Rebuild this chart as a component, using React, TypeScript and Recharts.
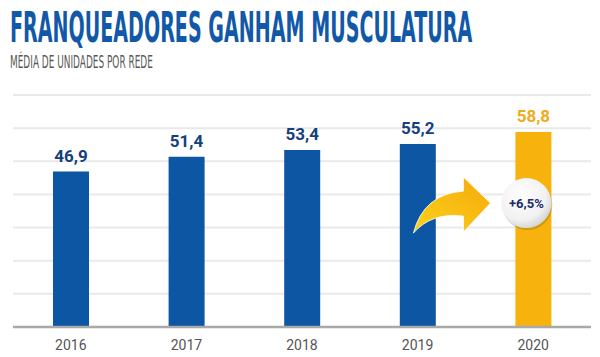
import { useLayoutEffect, useRef, useState } from "react";
import { BarChart, Bar, XAxis, YAxis, CartesianGrid, Cell, LabelList } from "recharts";

const years = ["2016", "2017", "2018", "2019", "2020"];
const unitsPerNetwork = [46.9, 51.4, 53.4, 55.2, 58.8];
const yTicks = [0, 10, 20, 30, 40, 50, 60, 70];
const growthLabel = "+6,5%";

const BLUE = "#0c56a3";
const YELLOW = "#f8b20e";
const NAVY = "#153f7d";

const data = years.map((year, i) => ({ year, value: unitsPerNetwork[i] }));

function fmt(v: number) {
  return v.toFixed(1).replace(".", ",");
}

// squeezes a line of text horizontally to a given width (condensed headline look)
function FitText({ text, left, top, width, style }: { text: string; left: number; top: number; width: number; style: React.CSSProperties }) {
  const ref = useRef<HTMLSpanElement>(null);
  const [scale, setScale] = useState(1);
  useLayoutEffect(() => {
    if (ref.current) setScale(width / ref.current.offsetWidth);
  }, [text, width]);
  return (
    <span
      ref={ref}
      style={{
        position: "absolute",
        left,
        top,
        whiteSpace: "nowrap",
        lineHeight: 1,
        transform: `scaleX(${scale})`,
        transformOrigin: "left top",
        fontFamily: "DejaVu Sans Condensed",
        ...style,
      }}
    >
      {text}
    </span>
  );
}

// arrow + "+6,5%" badge, placed relative to the last bar
function GrowthBadge({ x, y }: { x: number; y: number }) {
  const cx = x + 11;
  const cy = y + 71;
  const arrow = [
    `M ${x - 102} ${y + 101}`,
    `Q ${x - 92} ${y + 62} ${x - 52} ${y + 59}`,
    `L ${x - 52} ${y + 45}`,
    `L ${x - 25} ${y + 71}`,
    `L ${x - 52} ${y + 100}`,
    `L ${x - 52} ${y + 84}`,
    `Q ${x - 84} ${y + 80} ${x - 102} ${y + 101}`,
    "Z",
  ].join(" ");
  return (
    <g>
      <defs>
        <linearGradient id="arrowFill" x1="0" y1="1" x2="1" y2="0">
          <stop offset="0%" stopColor="#fbd21c" />
          <stop offset="100%" stopColor="#f6a90a" />
        </linearGradient>
        <radialGradient id="badgeFill" cx="40%" cy="35%" r="70%">
          <stop offset="0%" stopColor="#ffffff" />
          <stop offset="70%" stopColor="#f1f1f1" />
          <stop offset="100%" stopColor="#cfcfcf" />
        </radialGradient>
      </defs>
      <path d={arrow} fill="url(#arrowFill)" stroke="#ffffff" strokeWidth={0.8} />
      <circle cx={cx + 1} cy={cy + 2} r={25} fill="rgba(0,0,0,0.15)" />
      <circle cx={cx} cy={cy} r={25} fill="url(#badgeFill)" />
      <text
        x={cx}
        y={cy + 4.5}
        textAnchor="middle"
        fill="#1c2d6a"
        fontSize={13}
        fontWeight={700}
        fontFamily="Roboto"
      >
        {growthLabel}
      </text>
    </g>
  );
}

function ValueLabel(props: any) {
  const { x, y, width, value, index } = props;
  const last = index === data.length - 1;
  return (
    <g>
      {last && <GrowthBadge x={Number(x)} y={Number(y)} />}
      <text
        x={Number(x) + Number(width) / 2}
        y={Number(y) - 10}
        textAnchor="middle"
        fill={last ? "#f0aa1a" : NAVY}
        fontSize={17}
        fontWeight={700}
        fontFamily="Roboto"
      >
        {fmt(Number(value))}
      </text>
    </g>
  );
}

export default function App() {
  return (
    <div style={{ position: "absolute", left: 0, top: 0, width: 600, height: 357, background: "#fff" }}>
      <BarChart
        width={600}
        height={357}
        data={data}
        margin={{ top: 95, right: 9, left: 13, bottom: 0 }}
      >
        <CartesianGrid vertical={false} stroke="#e9e9e9" strokeWidth={2} />
        <YAxis hide domain={[0, 70]} ticks={yTicks} />
        <XAxis
          dataKey="year"
          height={30}
          tickLine={false}
          axisLine={{ stroke: "#a9a9a9", strokeWidth: 2.5 }}
          tickMargin={7}
          tick={{ fill: "#555555", fontSize: 14, fontFamily: "Roboto" }}
        />
        <Bar dataKey="value" barSize={36} isAnimationActive={false}>
          {data.map((d, i) => (
            <Cell key={d.year} fill={i === data.length - 1 ? YELLOW : BLUE} />
          ))}
          <LabelList dataKey="value" content={ValueLabel} />
        </Bar>
      </BarChart>
      <FitText
        text="FRANQUEADORES GANHAM MUSCULATURA"
        left={10}
        top={6}
        width={462}
        style={{ fontSize: 43, fontWeight: 700, color: "#1159a8" }}
      />
      <FitText
        text="MÉDIA DE UNIDADES POR REDE"
        left={10}
        top={53}
        width={143}
        style={{ fontSize: 18, color: "#595959" }}
      />
    </div>
  );
}
